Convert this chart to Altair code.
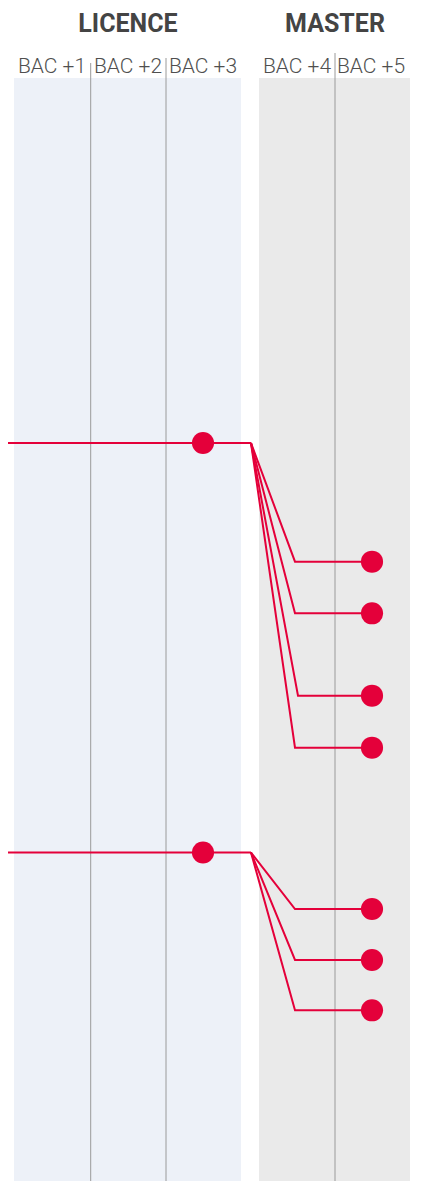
import altair as alt
import pandas as pd

# ---- data (positions in the chart's own pixel-like units) ----
band_names = ["LICENCE", "MASTER"]
band_x0 = [14, 259]
band_x1 = [241, 410]
band_top = [78, 78]
band_colors = ["#EDF1F8", "#EAEAEA"]

header_x = [128, 335]
header_y = [32, 31.5]

level_labels = ["BAC +1", "BAC +2", "BAC +3", "BAC +4", "BAC +5"]
level_x = [52, 128, 203, 297, 371]
level_y = [73, 73, 73, 73, 73]

divider_x = [90.7, 166, 335]
divider_top = [63, 58, 53]

# two groups: trunk at BAC+3, branches ending at BAC+5
trunk_y = [443, 852.5]
trunk_dot_x = 203
split_x = 251
branch_group = [0, 0, 0, 0, 1, 1, 1]
branch_y = [561.7, 613.3, 695.7, 747.7, 909, 960, 1010.3]
elbow_x = [295, 295, 298, 295, 295, 295, 295]
end_dot_x = 372

RED = "#E4003A"
W, H = 407, 1173
xs = alt.Scale(domain=[8, 8 + W], nice=False, zero=False)
ys = alt.Scale(domain=[8, 8 + H], nice=False, zero=False, reverse=True)

# ---- build tables ----
bands = pd.DataFrame({"name": band_names, "x0": band_x0, "x1": band_x1,
                      "top": band_top, "bottom": [1189, 1189], "color": band_colors})
headers = pd.DataFrame({"name": band_names, "x": header_x, "y": header_y})
levels = pd.DataFrame({"label": level_labels, "x": level_x, "y": level_y})
dividers = pd.DataFrame({"x": divider_x, "top": divider_top, "bottom": [1189] * 3})

rows = []
for g, ty in enumerate(trunk_y):
    rows.append({"path": f"t{g}", "seq": 0, "x": 0, "y": ty})
    rows.append({"path": f"t{g}", "seq": 1, "x": split_x, "y": ty})
for i, (g, by, ex) in enumerate(zip(branch_group, branch_y, elbow_x)):
    ty = trunk_y[g]
    rows.append({"path": f"b{i}", "seq": 0, "x": split_x, "y": ty})
    rows.append({"path": f"b{i}", "seq": 1, "x": ex, "y": by})
    rows.append({"path": f"b{i}", "seq": 2, "x": end_dot_x, "y": by})
paths = pd.DataFrame(rows)

dots = pd.DataFrame({"x": [trunk_dot_x] * len(trunk_y) + [end_dot_x] * len(branch_y),
                     "y": list(trunk_y) + list(branch_y)})

# ---- layers ----
band_layer = alt.Chart(bands).mark_rect(clip=True).encode(
    x=alt.X("x0:Q", scale=xs, axis=None), x2="x1:Q",
    y=alt.Y("top:Q", scale=ys, axis=None), y2="bottom:Q",
    color=alt.Color("color:N", scale=None, legend=None),
)

divider_layer = alt.Chart(dividers).mark_rule(color="#9A9A9A", strokeWidth=1, clip=True).encode(
    x=alt.X("x:Q", scale=xs, axis=None),
    y=alt.Y("top:Q", scale=ys, axis=None), y2="bottom:Q",
)

header_layer = alt.Chart(headers).mark_text(
    font="Roboto", fontWeight="bold", fontSize=25,
    color="#444444", align="center", baseline="alphabetic",
).encode(x=alt.X("x:Q", scale=xs, axis=None), y=alt.Y("y:Q", scale=ys, axis=None), text="name:N")

level_layer = alt.Chart(levels).mark_text(
    font="Roboto", fontWeight=300, fontSize=21,
    color="#4F4F4F", align="center", baseline="alphabetic",
).encode(x=alt.X("x:Q", scale=xs, axis=None), y=alt.Y("y:Q", scale=ys, axis=None), text="label:N")

path_layer = alt.Chart(paths).mark_line(color=RED, strokeWidth=2, clip=True).encode(
    x=alt.X("x:Q", scale=xs, axis=None),
    y=alt.Y("y:Q", scale=ys, axis=None),
    detail="path:N", order="seq:Q",
)

dot_layer = alt.Chart(dots).mark_point(filled=True, shape="circle", size=490, color=RED, opacity=1).encode(
    x=alt.X("x:Q", scale=xs, axis=None),
    y=alt.Y("y:Q", scale=ys, axis=None),
)

chart = alt.layer(band_layer, divider_layer, header_layer, level_layer, path_layer, dot_layer).properties(
    width=W, height=H, padding=0, autosize="none",
).configure_view(stroke=None)

chart.save("out.html", embed_options={"renderer": "svg", "actions": False})
